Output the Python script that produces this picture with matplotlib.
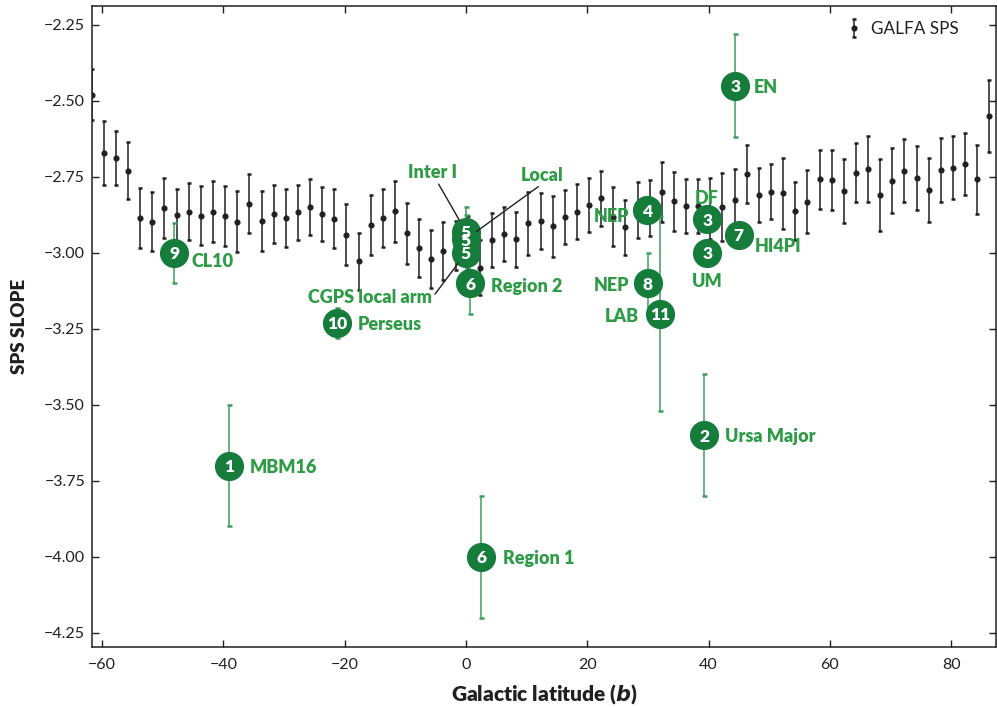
import matplotlib
matplotlib.use("Agg")
import matplotlib.pyplot as plt
from matplotlib.ticker import FuncFormatter

plt.rcParams["font.family"] = ["Lato", "DejaVu Sans"]
plt.rcParams["axes.unicode_minus"] = True

# GALFA-HI spatial power spectrum slopes, binned in Galactic latitude
galfa_b = [-61.7, -59.7, -57.7, -55.7, -53.7, -51.7, -49.7, -47.7, -45.7, -43.7,
           -41.7, -39.7, -37.7, -35.7, -33.7, -31.7, -29.7, -27.7, -25.7, -23.7,
           -21.7, -19.7, -17.7, -15.7, -13.7, -11.7, -9.7, -7.7, -5.7, -3.7,
           -1.7, 0.3, 2.3, 4.3, 6.3, 8.3, 10.3, 12.3, 14.3, 16.3,
           18.3, 20.3, 22.3, 24.3, 26.3, 28.3, 30.3, 32.3, 34.3, 36.3,
           38.3, 40.3, 42.3, 44.3, 46.3, 48.3, 50.3, 52.3, 54.3, 56.3,
           58.3, 60.3, 62.3, 64.3, 66.3, 68.3, 70.3, 72.3, 74.3, 76.3,
           78.3, 80.3, 82.3, 84.3, 86.3]
galfa_slope = [-2.479, -2.671, -2.688, -2.729, -2.885, -2.897, -2.852, -2.875, -2.864, -2.877,
               -2.864, -2.879, -2.897, -2.838, -2.895, -2.872, -2.884, -2.867, -2.850, -2.872,
               -2.888, -2.940, -3.028, -2.909, -2.885, -2.863, -2.935, -2.985, -3.020, -2.994,
               -2.976, -2.980, -3.049, -2.958, -2.937, -2.955, -2.903, -2.895, -2.913, -2.882,
               -2.864, -2.842, -2.821, -2.881, -2.916, -2.859, -2.853, -2.800, -2.830, -2.845,
               -2.846, -2.854, -2.849, -2.825, -2.740, -2.809, -2.799, -2.804, -2.862, -2.831,
               -2.757, -2.760, -2.796, -2.736, -2.725, -2.809, -2.762, -2.729, -2.754, -2.793,
               -2.727, -2.719, -2.708, -2.758, -2.550]
galfa_err = [0.083, 0.106, 0.088, 0.095, 0.098, 0.096, 0.100, 0.085, 0.094, 0.098,
             0.099, 0.098, 0.100, 0.097, 0.099, 0.096, 0.095, 0.092, 0.092, 0.090,
             0.097, 0.100, 0.093, 0.099, 0.095, 0.100, 0.100, 0.095, 0.095, 0.095,
             0.080, 0.100, 0.090, 0.090, 0.089, 0.090, 0.104, 0.092, 0.099, 0.090,
             0.090, 0.088, 0.090, 0.097, 0.090, 0.093, 0.092, 0.099, 0.097, 0.089,
             0.090, 0.100, 0.111, 0.100, 0.095, 0.090, 0.091, 0.117, 0.096, 0.103,
             0.097, 0.100, 0.106, 0.098, 0.109, 0.118, 0.107, 0.104, 0.105, 0.106,
             0.104, 0.104, 0.102, 0.114, 0.118]

# Literature slopes: reference number, name, latitude, slope, uncertainty
lit_ref = ["1", "2", "3", "3", "3", "4", "5", "5", "5", "6", "6", "7", "8", "9", "10", "11"]
lit_name = ["MBM16", "Ursa Major", "EN", "DF", "UM", "NEP", "Inter I", "Local",
            "CGPS local arm", "Region 1", "Region 2", "HI4PI", "NEP", "CL10", "Perseus", "LAB"]
lit_b = [-39.0, 39.3, 44.4, 39.8, 39.8, 29.9, 0.0, 0.0, 0.0, 2.5, 0.7, 45.0, 30.0, -48.1, -21.2, 32.0]
lit_slope = [-3.70, -3.60, -2.45, -2.89, -3.00, -2.86, -2.93, -2.955, -3.00, -4.00, -3.10,
             -2.94, -3.10, -3.00, -3.23, -3.20]
lit_err = [0.20, 0.20, 0.17, 0.0, 0.0, 0.0, 0.08, 0.08, 0.08, 0.20, 0.10, 0.0, 0.10, 0.10, 0.05, 0.32]

# label placement for each literature point: offset (points), horizontal alignment
label_pos = [(14.4, 0, "left"), (15.0, 0, "left"), (13.7, 0, "left"), (-0.7, 16.3, "center"),
             (0, -19.4, "center"), (-13.0, -3.0, "right"), None, None, None,
             (15.8, 0, "left"), (15.0, -1.2, "left"), (11.7, -7.4, "left"),
             (-13.5, -0.5, "right"), (12.7, -5.0, "left"), (14.4, -0.5, "left"),
             (-15.0, -0.7, "right")]
# leader-line labels (offset points, relpos of line start)
leader_pos = {6: ((-24.3, 42.3), (0.5, 0.5)),
              7: ((54.9, 46.0), (0.5, 0.0)),
              8: ((-68.9, -32.4), (1.0, 0.5))}

BLACK = "#231f20"
DARK_GREEN = "#167c3c"
TEXT_GREEN = "#2e9b47"
BAR_GREEN = "#3f9e5e"

fig = plt.figure(figsize=(9.97, 7.07), dpi=100)
ax = fig.add_axes([92 / 997, 60 / 707, 904 / 997, 641 / 707])

galfa = ax.errorbar(galfa_b, galfa_slope, yerr=galfa_err, fmt="o", ms=3.4,
                    color=BLACK, ecolor=BLACK, elinewidth=1.1, capsize=1.6,
                    capthick=1.8, zorder=2, label="GALFA SPS")

ax.errorbar(lit_b, lit_slope, yerr=lit_err, fmt="none", ecolor=BAR_GREEN,
            elinewidth=1.1, capsize=1.8, capthick=1.8, zorder=3)
ax.plot(lit_b, lit_slope, "o", ms=21, mfc=DARK_GREEN, mec="none", zorder=4)

for i, (ref, name, b, s) in enumerate(zip(lit_ref, lit_name, lit_b, lit_slope)):
    ax.text(b, s, ref, color="white", fontsize=12.5, fontweight="heavy",
            ha="center", va="center_baseline", zorder=5)
    if label_pos[i] is not None:
        dx, dy, ha = label_pos[i]
        ax.annotate(name, (b, s), xytext=(dx, dy), textcoords="offset points",
                    ha=ha, va="center_baseline", color=TEXT_GREEN,
                    fontsize=13, fontweight="heavy", zorder=6)
    else:
        (dx, dy), rel = leader_pos[i]
        ax.annotate(name, (b, s), xytext=(dx, dy), textcoords="offset points",
                    ha="center", va="center", color=TEXT_GREEN,
                    fontsize=13, fontweight="heavy", zorder=6,
                    arrowprops=dict(arrowstyle="-", color=BLACK, lw=1.0,
                                    shrinkA=0, shrinkB=9.5, relpos=rel))

ax.set_xlim(-61.65, 87.4)
ax.set_ylim(-4.297, -2.1875)
ax.set_xticks([-60, -40, -20, 0, 20, 40, 60, 80])
ax.set_yticks([-4.25, -4.0, -3.75, -3.5, -3.25, -3.0, -2.75, -2.5, -2.25])
ax.xaxis.set_major_formatter(FuncFormatter(lambda v, p: f"{v:.0f}".replace("-", "\u2212")))
ax.yaxis.set_major_formatter(FuncFormatter(lambda v, p: f"{v:.2f}".replace("-", "\u2212")))
ax.tick_params(direction="in", top=True, right=True, length=5, width=1.0,
               colors=BLACK, labelsize=11.5)
ax.tick_params(axis="x", pad=8)
ax.tick_params(axis="y", pad=5)
for sp in ax.spines.values():
    sp.set_linewidth(1.1)
    sp.set_color(BLACK)

ax.set_xlabel("Galactic latitude ($\\boldsymbol{b}$)", fontsize=15, fontweight="heavy", color=BLACK)
ax.xaxis.set_label_coords(0.5, -0.054)
ax.set_ylabel("SPS SLOPE", fontsize=13.5, fontweight="heavy", color=BLACK)
ax.yaxis.set_label_coords(-0.0804, 0.5)
ax.yaxis.label.set_verticalalignment("center")

ax.legend(handles=[galfa], labels=["GALFA SPS"], loc="upper right",
          bbox_to_anchor=(0.974, 0.998), frameon=False, fontsize=12.3,
          handlelength=0.6, handletextpad=0.7, borderpad=0.3, labelcolor=BLACK)

fig.savefig("out.png", dpi=100)
